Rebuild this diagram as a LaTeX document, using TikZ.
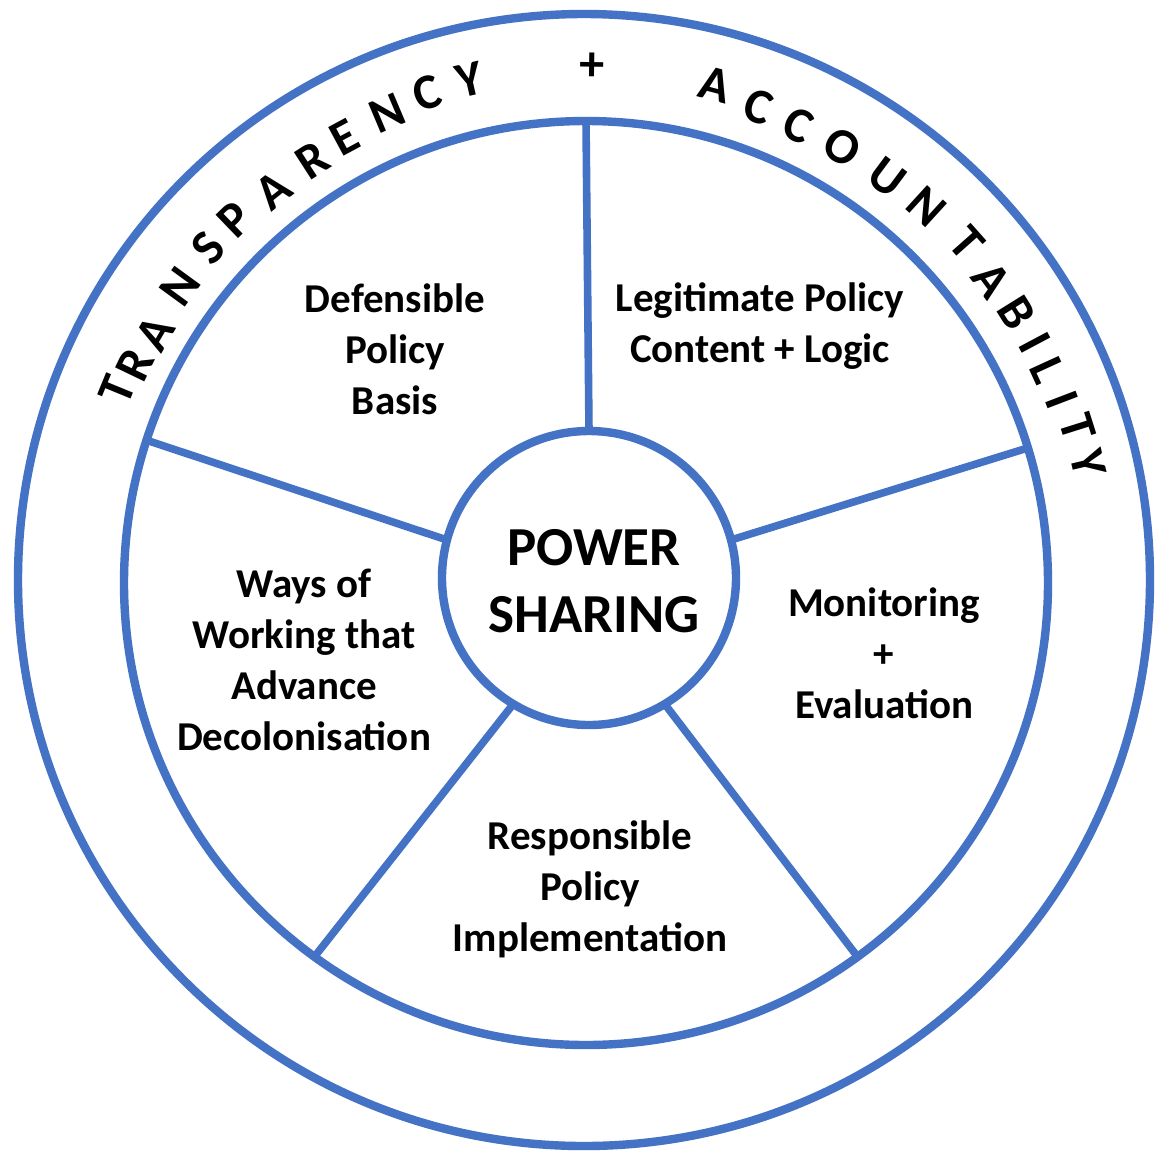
\documentclass[tikz,border=0pt]{standalone}
\usepackage{fontspec}
\setmainfont{Carlito}
\definecolor{ringblue}{HTML}{4472C4}
\begin{document}
\begin{tikzpicture}[x=0.5pt,y=-0.5pt,
  ringline/.style={draw=ringblue, line width=4.2pt, circle, inner sep=0pt, outer sep=0pt},
  spoke/.style={draw=ringblue, line width=3.8pt},
  sector/.style={font=\bfseries\fontsize{20.5}{25.5}\selectfont, align=center, inner sep=0pt, text=black},
  arcletter/.style={font=\bfseries\fontsize{25}{30}\selectfont, inner sep=0pt, text=black},
  hubtext/.style={font=\bfseries\fontsize{27.5}{33.5}\selectfont, align=center, inner sep=0pt, text=black}]
\useasboundingbox (0,0) rectangle (1163,1153);
\fill[white] (0,0) rectangle (1163,1153);
% circles
\node[ringline, minimum size=566pt] (outer) at (584,580) {};
\node[ringline, minimum size=462pt] (ring) at (586,583) {};
\node[ringline, minimum size=147pt, fill=white] (hub) at (589,578) {};
% spokes
\draw[spoke] (hub.90) -- (ring.90);
\draw[spoke] (hub.15) -- (ring.17.5);
\draw[spoke] (hub.-59) -- (ring.-54);
\draw[spoke] (hub.-121) -- (ring.-126);
\draw[spoke] (hub.165) -- (ring.162);
% curved title letters
\foreach \ch/\px/\py/\ang [count=\i] in {
  T/117/390/157.7, R/135/365/154.3, A/155/333/149.9, N/180/287/143.9,
  S/208/248/138.5, P/235/220/134.0, A/273/190/128.5, R/313/160/122.8,
  E/345/137/118.3, N/387/113/112.9, C/427/93/107.9, Y/470/80/102.9,
  +/592/67/89.2,
  A/715/85/75.3, C/758/107/70.0, C/798/125/65.0, O/842/147/59.4,
  U/887/177/53.3, N/927/207/47.6, T/967/243/41.6, A/992/280/36.6,
  B/1017/313/31.9, I/1035/343/28.0, L/1048/370/24.6, I/1062/400/20.9,
  T/1078/427/17.5, Y/1088/463/13.3}
  \node[arcletter, rotate=\ang-90] (arc\i) at (\px,\py) {\ch};
% sector labels
\node[sector] (basis) at (395,349) {Defensible\\Policy\\Basis};
\node[sector] (content) at (760,326) {Legitimate Policy\\Content + Logic};
\node[sector] (monitor) at (884,653) {Monitoring\\+\\Evaluation};
\node[sector] (ways) at (304,660) {Ways of\\Working that\\Advance\\Decolonisation};
\node[sector] (impl) at (590,889) {Responsible\\Policy\\Implementation};
\node[hubtext] (power) at (594,581) {POWER\\SHARING};
\end{tikzpicture}
\end{document}
